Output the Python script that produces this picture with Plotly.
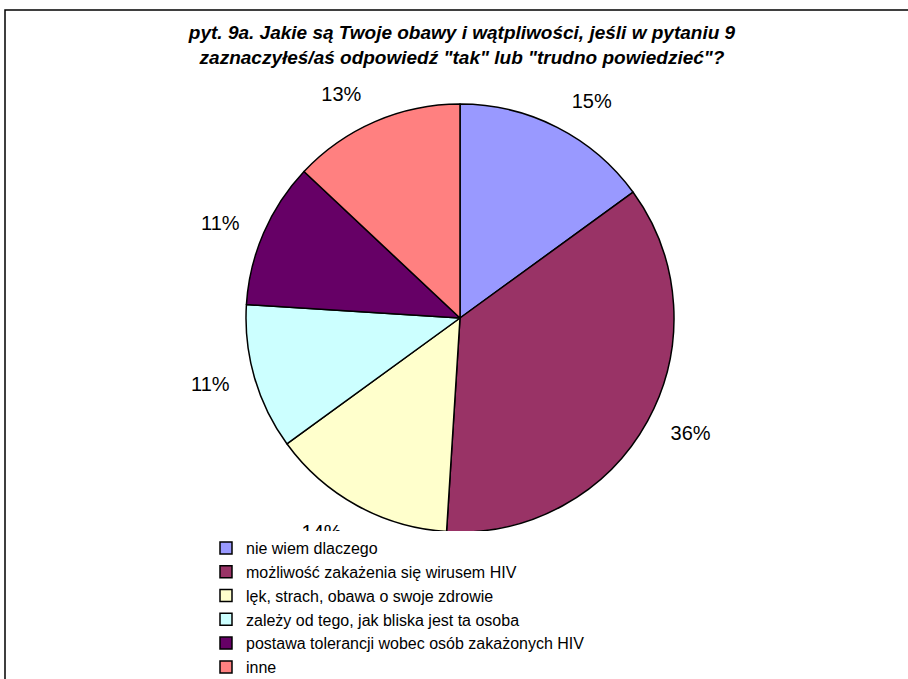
import plotly.graph_objects as go

categories = [
    "nie wiem dlaczego",
    "możliwość zakażenia się wirusem HIV",
    "lęk, strach, obawa o swoje zdrowie",
    "zależy od tego, jak bliska jest ta osoba",
    "postawa tolerancji wobec osób zakażonych HIV",
    "inne",
]
values = [15, 36, 14, 11, 11, 13]
colors = ["#9999FF", "#993366", "#FFFFCC", "#CCFFFF", "#660066", "#FF8080"]
title_text = ("pyt. 9a. Jakie są Twoje obawy i wątpliwości, jeśli w pytaniu 9<br>"
              "zaznaczyłeś/aś odpowiedź \"tak\" lub \"trudno powiedzieć\"?")

W, H = 908, 679
cx, cy, r = 460, 318, 214
r_lab = 234  # radius of the invisible pie that carries the percentage labels

FONT = "Liberation Sans, Arial"


def dom(rad):
    return dict(x=[(cx - rad) / W, (cx + rad) / W],
                y=[1 - (cy + rad) / H, 1 - (cy - rad) / H])


fig = go.Figure()

# visible pie (slices + legend)
fig.add_trace(go.Pie(
    labels=categories,
    values=values,
    sort=False,
    direction="clockwise",
    rotation=0,
    marker=dict(colors=colors, line=dict(color="black", width=1.5)),
    textinfo="none",
    domain=dom(r),
    hoverinfo="label+percent",
))

# transparent pie that only carries the outside percentage labels
fig.add_trace(go.Pie(
    labels=categories,
    values=values,
    sort=False,
    direction="clockwise",
    rotation=0,
    marker=dict(colors=["rgba(0,0,0,0)"] * len(values),
                line=dict(color="rgba(0,0,0,0)", width=0)),
    textinfo="percent",
    textposition="outside",
    texttemplate="%{percent:.0%}",
    outsidetextfont=dict(family=FONT, size=20, color="black"),
    domain=dom(r_lab),
    showlegend=False,
    hoverinfo="skip",
))

fig.update_layout(
    width=W, height=H,
    margin=dict(l=0, r=0, t=0, b=0, autoexpand=False),
    paper_bgcolor="white",
    plot_bgcolor="white",
    title=dict(
        text="<b><i>" + title_text + "</i></b>",
        x=462 / W, xanchor="center",
        y=1 - 39 / H, yanchor="top",
        font=dict(family=FONT, size=19, color="black"),
    ),
    showlegend=True,
    legend=dict(
        x=206 / W, xanchor="left",
        y=1 - 531 / H, yanchor="top",
        bgcolor="rgba(255,255,255,1)",
        font=dict(family=FONT, size=16, color="black"),
        traceorder="normal",
        tracegroupgap=0,
    ),
    shapes=[dict(
        type="rect", xref="paper", yref="paper",
        x0=5 / W, x1=1.2, y0=-0.2, y1=1 - 10 / H,
        line=dict(color="black", width=1.5),
        fillcolor="rgba(0,0,0,0)", layer="above",
    )],
)

fig.write_html("out.html",
               config={"displayModeBar": False},
               post_script="document.body.style.margin='0px';document.body.style.padding='0px';")
